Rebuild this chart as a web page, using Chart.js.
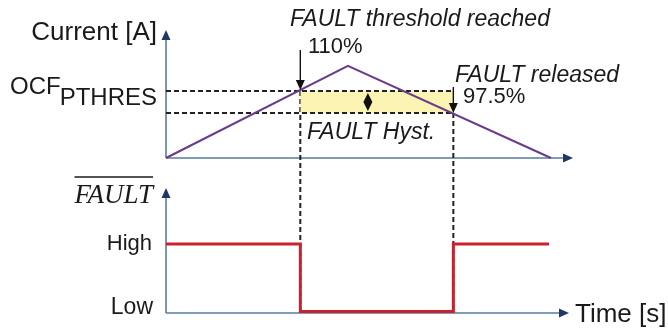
<!DOCTYPE html>
<html><head><meta charset="utf-8">
<script src="https://cdn.jsdelivr.net/npm/chart.js@4/dist/chart.umd.min.js"></script>
<style>html,body{margin:0;padding:0;background:#fff;}canvas{display:block;}</style>
</head><body>
<canvas id="c" width="668" height="331"></canvas>
<script>
// ---- data ----
const currentTime = [0, 4.47, 9.46];
const currentAmps = [0, 10, 0];
const faultTime = [0, 3.3, 3.3, 7.06, 7.06, 9.41];
const faultLevel = [1, 1, 0, 0, 1, 1];
const thresholdLevels = [7.28, 4.89];          // trip (OCF_PTHRES) and release levels
const thresholdPercent = ['110%', '97.5%'];
const eventTimes = [3.3, 7.06];                // FAULT asserted, FAULT released
const faultStateLabels = ['Low', 'High'];
const timeRange = [0, 10];
const currentAxisRange = [-3.26, 14];
const faultAxisRange = [-0.022, 1.83];

const SANS = '"Liberation Sans", Arial, sans-serif';
const INK = '#1a1a1a';
const AXIS = '#5a7b9e';
const AXIS_HEAD = '#1f3864';
const DASH_COLOR = '#222';
const DASH = [5, 3];

function pts(xs, ys) { return xs.map((x, i) => ({x, y: ys[i]})); }

function head(ctx, tx, ty, dir, len, hw, color) {
  ctx.save();
  ctx.fillStyle = color;
  ctx.beginPath();
  if (dir === 'up') { ctx.moveTo(tx, ty); ctx.lineTo(tx - hw, ty + len); ctx.lineTo(tx + hw, ty + len); }
  else if (dir === 'down') { ctx.moveTo(tx, ty); ctx.lineTo(tx - hw, ty - len); ctx.lineTo(tx + hw, ty - len); }
  else { ctx.moveTo(tx, ty); ctx.lineTo(tx - len, ty - hw); ctx.lineTo(tx - len, ty + hw); }
  ctx.closePath();
  ctx.fill();
  ctx.restore();
}
function line(ctx, x1, y1, x2, y2, color, w, dash) {
  ctx.save();
  ctx.strokeStyle = color; ctx.lineWidth = w;
  ctx.setLineDash(dash || []);
  ctx.beginPath(); ctx.moveTo(x1, y1); ctx.lineTo(x2, y2); ctx.stroke();
  ctx.restore();
}
function text(ctx, s, x, y, font, align) {
  ctx.save();
  ctx.font = font; ctx.fillStyle = INK;
  ctx.textAlign = align || 'left'; ctx.textBaseline = 'alphabetic';
  ctx.fillText(s, x, y);
  const w = ctx.measureText(s).width;
  ctx.restore();
  return w;
}

const diagramPlugin = {
  id: 'diagram',
  beforeDatasetsDraw(chart) {
    const ctx = chart.ctx;
    const xs = chart.scales.x, yc = chart.scales.yCur, yf = chart.scales.yFault;
    const x0 = xs.getPixelForValue(timeRange[0]);
    // top panel axes
    const yc0 = yc.getPixelForValue(0);
    line(ctx, x0, yc0, x0, yc.top + 9, AXIS, 1.6);
    head(ctx, x0, yc.top + 1, 'up', 10, 4.5, AXIS_HEAD);
    line(ctx, x0, yc0, xs.right - 9, yc0, AXIS, 1.6);
    head(ctx, xs.right, yc0, 'right', 10, 4.5, AXIS_HEAD);
    // bottom panel axes
    const yfb = yf.bottom;
    line(ctx, x0, yfb, x0, yf.top + 9, AXIS, 1.6);
    head(ctx, x0, yf.top, 'up', 10, 4.5, AXIS_HEAD);
    line(ctx, x0, yfb, xs.right - 12, yfb, AXIS, 1.6);
    head(ctx, xs.right - 4, yfb, 'right', 10, 4.5, AXIS_HEAD);
    // vertical dashed event lines
    eventTimes.forEach((t, i) => {
      const x = xs.getPixelForValue(t);
      line(ctx, x, yc.getPixelForValue(thresholdLevels[i]), x, yfb, DASH_COLOR, 2, DASH);
    });
  },
  afterDatasetsDraw(chart) {
    const ctx = chart.ctx;
    const xs = chart.scales.x, yc = chart.scales.yCur, yf = chart.scales.yFault;
    const xTrip = xs.getPixelForValue(eventTimes[0]);
    const xRel = xs.getPixelForValue(eventTimes[1]);
    const yTrip = yc.getPixelForValue(thresholdLevels[0]);
    const yRel = yc.getPixelForValue(thresholdLevels[1]);
    // trip arrow
    line(ctx, xTrip, 50, xTrip, yTrip - 8, '#111', 1.4);
    head(ctx, xTrip, yTrip - 1, 'down', 10, 4.5, '#111');
    // release arrow
    line(ctx, xRel, 87, xRel, yRel - 8, '#111', 1.4);
    head(ctx, xRel, yRel, 'down', 10, 4.5, '#111');
    // hysteresis double arrow
    const xh = xs.getPixelForValue(4.96);
    const ym = (yTrip + yRel) / 2;
    head(ctx, xh, yTrip + 2, 'up', ym - yTrip - 2, 4.5, '#111');
    head(ctx, xh, yRel - 2, 'down', yRel - ym - 2, 4.5, '#111');
    // texts
    text(ctx, 'Current [A]', 157, 40, '26px ' + SANS, 'right');
    text(ctx, 'PTHRES', 157, 105, '24px ' + SANS, 'right');
    text(ctx, 'OCF', 10, 94, '24px ' + SANS, 'left');
    text(ctx, 'FAULT threshold reached', 290, 26, 'italic 23px ' + SANS, 'left');
    text(ctx, thresholdPercent[0], 308, 53, '22px ' + SANS, 'left');
    text(ctx, 'FAULT released', 455, 82, 'italic 23px ' + SANS, 'left');
    text(ctx, thresholdPercent[1], 463, 103, '22px ' + SANS, 'left');
    text(ctx, 'FAULT Hyst.', 307, 139, 'italic 23px ' + SANS, 'left');
    // FAULT with overline
    const fw = text(ctx, 'FAULT', 153, 203, 'italic 27px "Liberation Serif", "Times New Roman", serif', 'right');
    line(ctx, 153 - fw, 177, 153, 177, INK, 1.5);
    text(ctx, faultStateLabels[1], 152, yf.getPixelForValue(1) + 6, '22px ' + SANS, 'right');
    text(ctx, faultStateLabels[0], 153, yf.getPixelForValue(0) + 2, '23px ' + SANS, 'right');
    text(ctx, 'Time [s]', 575, 322, '26px ' + SANS, 'left');
  }
};

new Chart(document.getElementById('c'), {
  type: 'line',
  data: {
    datasets: [
      { label: 'Current', data: pts(currentTime, currentAmps), yAxisID: 'yCur',
        borderColor: '#6a3d8c', borderWidth: 2.2, pointRadius: 0, order: 1, fill: false },
      { label: 'FAULT', data: pts(faultTime, faultLevel), yAxisID: 'yFault',
        borderColor: '#c9212d', borderWidth: 3, pointRadius: 0, order: 0, fill: false,
        borderJoinStyle: 'miter' },
      { label: 'OCF_PTHRES', data: pts([timeRange[0], eventTimes[1]], [thresholdLevels[0], thresholdLevels[0]]), yAxisID: 'yCur',
        borderColor: DASH_COLOR, borderWidth: 2, borderDash: DASH, pointRadius: 0, order: 2, fill: false },
      { label: 'Release', data: pts([timeRange[0], eventTimes[1]], [thresholdLevels[1], thresholdLevels[1]]), yAxisID: 'yCur',
        borderColor: DASH_COLOR, borderWidth: 2, borderDash: DASH, pointRadius: 0, order: 2, fill: false },
      { label: 'Hysteresis', data: pts(eventTimes, [thresholdLevels[0], thresholdLevels[0]]), yAxisID: 'yCur',
        borderWidth: 0, borderColor: 'rgba(0,0,0,0)', backgroundColor: '#fbf4b2', pointRadius: 0, order: 5,
        fill: { value: thresholdLevels[1] } }
    ]
  },
  options: {
    responsive: false,
    animation: false,
    devicePixelRatio: 1,
    layout: { padding: { left: 166, right: 95, top: 29, bottom: 18 } },
    plugins: { legend: { display: false }, tooltip: { enabled: false } },
    scales: {
      x: { type: 'linear', min: timeRange[0], max: timeRange[1], display: false },
      yFault: { type: 'linear', position: 'left', stack: 'panels', stackWeight: 125,
        min: faultAxisRange[0], max: faultAxisRange[1], display: false },
      yCur: { type: 'linear', position: 'left', stack: 'panels', stackWeight: 159,
        min: currentAxisRange[0], max: currentAxisRange[1], display: false }
    }
  },
  plugins: [diagramPlugin]
});
</script>
</body></html>
